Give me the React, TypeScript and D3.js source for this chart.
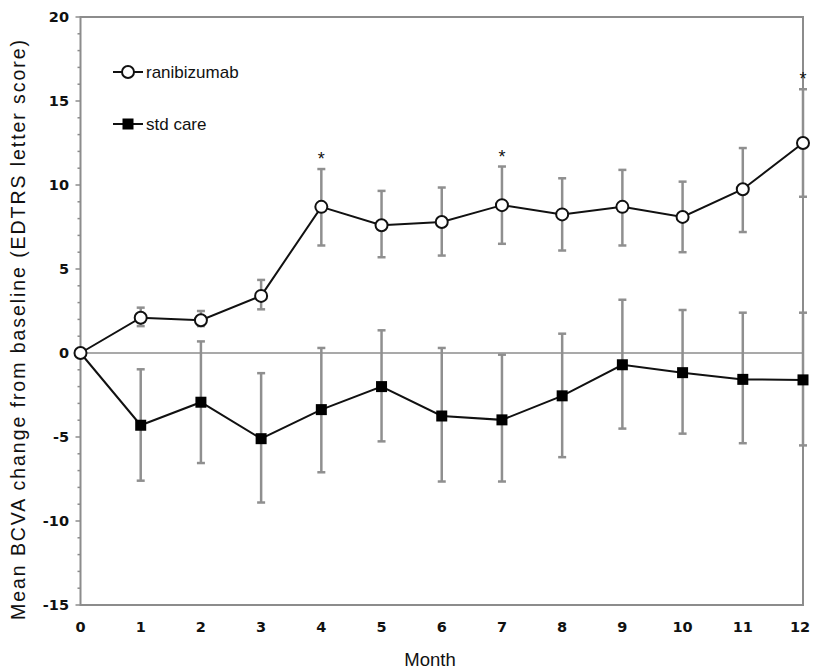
import React from 'react';
import * as d3 from 'd3';

const months = [0, 1, 2, 3, 4, 5, 6, 7, 8, 9, 10, 11, 12];
const raniMean = [0, 2.1, 1.95, 3.4, 8.7, 7.6, 7.8, 8.8, 8.25, 8.7, 8.1, 9.75, 12.5];
const raniHigh = [0, 2.7, 2.5, 4.35, 10.95, 9.65, 9.85, 11.1, 10.4, 10.9, 10.2, 12.2, 15.7];
const raniLow = [0, 1.6, 1.6, 2.6, 6.4, 5.7, 5.8, 6.5, 6.1, 6.4, 6.0, 7.2, 9.3];
const stdMean = [0, -4.3, -2.93, -5.1, -3.37, -2.0, -3.75, -3.98, -2.55, -0.7, -1.17, -1.57, -1.6];
const stdHigh = [0, -0.97, 0.69, -1.2, 0.3, 1.35, 0.3, -0.1, 1.15, 3.17, 2.56, 2.4, 2.4];
const stdLow = [0, -7.6, -6.55, -8.9, -7.1, -5.26, -7.65, -7.65, -6.2, -4.5, -4.8, -5.37, -5.5];
const starMonths = [4, 7, 12];
const yTicks = [20, 15, 10, 5, 0, -5, -10, -15];

const W = 813;
const H = 672;
const left = 80.5;
const right = 803;
const top = 17;
const bottom = 605;

const AXIS = '#8c8c8c';
const ERR = '#8f8f8f';

export default function App() {
  const x = d3.scaleLinear().domain([0, 12]).range([left, right]);
  const y = d3.scaleLinear().domain([-15, 20]).range([bottom, top]);
  const line = d3
    .line<number>()
    .x((_, i) => x(months[i]))
    .y((d) => y(d));

  const minor = d3.range(-15, 21, 1);
  const tickFont = "'DejaVu Sans', Verdana, sans-serif";
  const textFont = "'Liberation Sans', Arial, sans-serif";

  const errorBars = (hi: number[], lo: number[], key: string) =>
    months.map((m, i) =>
      m === 0 ? null : (
        <g key={key + i} stroke={ERR} strokeWidth={2.5}>
          <line x1={x(m)} x2={x(m)} y1={y(hi[i])} y2={y(lo[i])} />
          <line x1={x(m) - 4} x2={x(m) + 4} y1={y(hi[i])} y2={y(hi[i])} />
          <line x1={x(m) - 4} x2={x(m) + 4} y1={y(lo[i])} y2={y(lo[i])} />
        </g>
      )
    );

  return (
    <svg
      width={W}
      height={H}
      style={{ position: 'absolute', left: 0, top: 0, background: '#fff' }}
    >
      {/* frame */}
      <rect x={left} y={top} width={right - left} height={bottom - top} fill="none" stroke={AXIS} strokeWidth={2} />
      {/* zero line */}
      <line x1={left} x2={right} y1={y(0)} y2={y(0)} stroke={AXIS} strokeWidth={1.6} />

      {/* y ticks */}
      {minor.map((v) => (
        <line
          key={'m' + v}
          x1={left - (v % 5 === 0 ? 5 : 3)}
          x2={left}
          y1={y(v)}
          y2={y(v)}
          stroke={AXIS}
          strokeWidth={1.5}
        />
      ))}
      {yTicks.map((v) => (
        <text
          key={'yt' + v}
          x={69}
          y={y(v)}
          dy="0.36em"
          textAnchor="end"
          fontFamily={tickFont}
          fontWeight="bold"
          fontSize={14.5}
          fill="#111"
        >
          {v}
        </text>
      ))}
      {months.map((m) => (
        <text
          key={'xt' + m}
          x={Math.min(x(m), W - 13)}
          y={627}
          dy="0.36em"
          textAnchor="middle"
          fontFamily={tickFont}
          fontWeight="bold"
          fontSize={14.5}
          fill="#111"
        >
          {m}
        </text>
      ))}

      {/* axis titles */}
      <text
        transform={`translate(18,${330}) rotate(-90)`}
        textAnchor="middle"
        fontFamily={textFont}
        fontSize={19.5}
        textLength={580}
        lengthAdjust="spacing"
        dy="0.36em"
        fill="#111"
      >
        Mean BCVA change from baseline (EDTRS letter score)
      </text>
      <text x={430} y={659} textAnchor="middle" fontFamily={textFont} fontSize={18.5} dy="0.36em" fill="#111">
        Month
      </text>

      {/* error bars */}
      {errorBars(raniHigh, raniLow, 'r')}
      {errorBars(stdHigh, stdLow, 's')}

      {/* lines */}
      <path d={line(stdMean) || ''} fill="none" stroke="#111" strokeWidth={2} />
      <path d={line(raniMean) || ''} fill="none" stroke="#111" strokeWidth={2} />

      {/* markers */}
      {stdMean.map((v, i) =>
        i === 0 ? null : (
          <rect key={'sq' + i} x={x(months[i]) - 5.5} y={y(v) - 5.5} width={11} height={11} fill="#000" />
        )
      )}
      {raniMean.map((v, i) => (
        <circle key={'c' + i} cx={x(months[i])} cy={y(v)} r={6} fill="#fff" stroke="#111" strokeWidth={2} />
      ))}

      {/* significance */}
      {starMonths.map((m) => (
        <text
          key={'st' + m}
          x={x(m)}
          y={y(raniHigh[months.indexOf(m)]) - 4}
          textAnchor="middle"
          fontFamily={textFont}
          fontSize={18}
          fill="#111"
        >
          *
        </text>
      ))}

      {/* legend */}
      <g>
        <line x1={113} x2={143} y1={72} y2={72} stroke="#111" strokeWidth={2} />
        <circle cx={128} cy={72} r={6} fill="#fff" stroke="#111" strokeWidth={2} />
        <text x={146} y={72} dy="0.36em" fontFamily={textFont} fontSize={17} fill="#111">
          ranibizumab
        </text>
        <line x1={113} x2={143} y1={124} y2={124} stroke="#111" strokeWidth={2} />
        <rect x={122.5} y={118.5} width={11} height={11} fill="#000" />
        <text x={146} y={124} dy="0.36em" fontFamily={textFont} fontSize={17} fill="#111">
          std care
        </text>
      </g>
    </svg>
  );
}
